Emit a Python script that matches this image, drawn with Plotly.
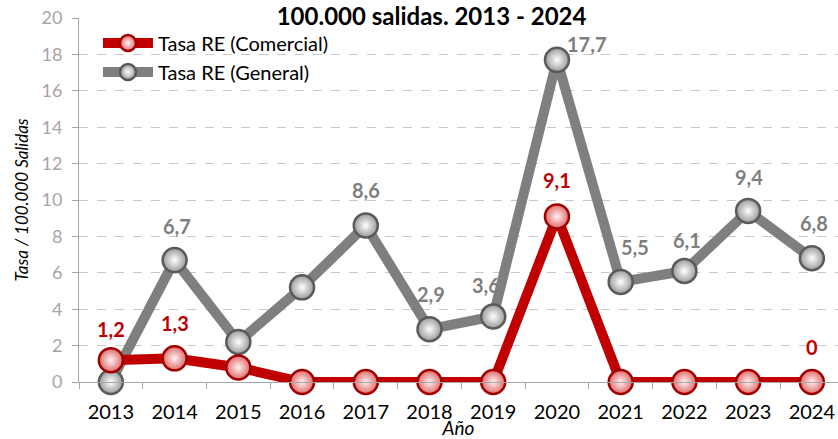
import plotly.graph_objects as go

years = ["2013", "2014", "2015", "2016", "2017", "2018", "2019", "2020", "2021", "2022", "2023", "2024"]
comercial = [1.2, 1.3, 0.8, 0, 0, 0, 0, 9.1, 0, 0, 0, 0]
general = [0, 6.7, 2.2, 5.2, 8.6, 2.9, 3.6, 17.7, 5.5, 6.1, 9.4, 6.8]
labels_com = ["1,2", "1,3", "", "", "", "", "", "9,1", "", "", "", "0"]
labels_gen = ["", "6,7", "", "", "8,6", "2,9", "3,6", "17,7", "5,5", "6,1", "9,4", "6,8"]
yticks = [0, 2, 4, 6, 8, 10, 12, 14, 16, 18, 20]

# label offsets (pixels)
off_com = [(0, 31), (0, 35), (0, 0), (0, 0), (0, 0), (0, 0), (0, 0), (0, 36), (0, 0), (0, 0), (0, 0), (0, 35)]
off_gen = [(0, 0), (2, 34), (0, 0), (0, 0), (0, 35), (1, 35), (-7, 31), (30, 16), (14, 35), (3, 31), (1, 34), (2, 35)]

RED = "#c00000"
GRAY = "#7f7f7f"
FONT = "Lato"

fig = go.Figure()
fig.add_trace(go.Scatter(
    x=years, y=general, name="Tasa RE (General)", mode="lines+markers",
    line=dict(color=GRAY, width=10),
    marker=dict(size=24, color="#9a9a9a", gradient=dict(type="radial", color="#ffffff"),
                line=dict(color="#5a5a5a", width=2.5)),
    cliponaxis=False,
))
fig.add_trace(go.Scatter(
    x=years, y=comercial, name="Tasa RE (Comercial)", mode="lines+markers",
    line=dict(color=RED, width=10),
    marker=dict(size=24, color="#e06a6a", gradient=dict(type="radial", color="#fff2f2"),
                line=dict(color="#a00000", width=2.5)),
    cliponaxis=False,
))

for i, (y, t) in enumerate(zip(general, labels_gen)):
    if t:
        fig.add_annotation(x=i, y=y, text="<b>" + t + "</b>", showarrow=False,
                           xshift=off_gen[i][0], yshift=off_gen[i][1],
                           font=dict(family=FONT, size=20, color=GRAY))
for i, (y, t) in enumerate(zip(comercial, labels_com)):
    if t:
        fig.add_annotation(x=i, y=y, text="<b>" + t + "</b>", showarrow=False,
                           xshift=off_com[i][0], yshift=off_com[i][1],
                           font=dict(family=FONT, size=20, color=RED))

fig.update_layout(
    width=838, height=439,
    margin=dict(l=79, r=0, t=18, b=57),
    paper_bgcolor="white", plot_bgcolor="white",
    font=dict(family=FONT, size=16, color="black"),
    title=dict(text="<b>100.000 salidas. 2013 - 2024</b>", x=0.515, xanchor="center",
               y=1.0, yref="container", yanchor="top", pad=dict(t=8),
               font=dict(family=FONT, size=24, color="black")),
    showlegend=True,
    legend=dict(x=0.025, y=0.985, xanchor="left", yanchor="top", traceorder="reversed",
                bgcolor="rgba(0,0,0,0)", font=dict(size=20, color="black"),
                itemwidth=50, tracegroupgap=0),
    xaxis=dict(type="category", range=[-0.5, 11.41], tickson="boundaries", ticks="outside", ticklen=6,
               tickcolor="#a6a6a6", showline=True, linecolor="#a6a6a6", linewidth=1,
               showgrid=False, tickfont=dict(size=20, color="black"), automargin=False,
               ticklabelstandoff=12,
               title=dict(text="<i>Año</i>", font=dict(size=19), standoff=0)),
    yaxis=dict(range=[0, 20], tickvals=yticks, ticks="outside", ticklen=6,
               tickcolor="#a6a6a6", showline=True, linecolor="#a6a6a6", linewidth=1,
               gridcolor="#c8c8c8", griddash="dash", gridwidth=1, zeroline=False,
               tickfont=dict(size=18, color="#a6a6a6"), automargin=False,
               ticklabelstandoff=6,
               title=dict(text="<i>Tasa / 100.000 Salidas</i>", font=dict(size=17), standoff=8)),
)

fig.write_html("out.html", config={"displayModeBar": False},
               post_script="document.body.style.margin='0';")
